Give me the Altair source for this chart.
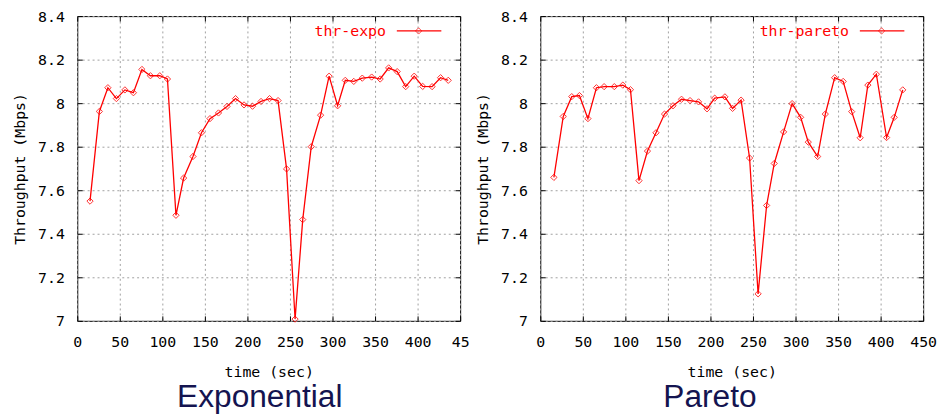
import altair as alt
import pandas as pd

# ---- data ----
expo_time = [15, 26, 36, 46, 56, 66, 76, 86, 97, 106,
             116, 125, 136, 146, 156, 166, 176, 186, 196, 206,
             216, 226, 236, 246, 256, 265, 275, 286, 296, 306,
             315, 325, 335, 346, 356, 366, 376, 386, 396, 406,
             417, 427, 436]
expo_thr = [7.55, 7.962, 8.071, 8.021, 8.061, 8.048, 8.155, 8.126, 8.126, 8.111,
            7.485, 7.656, 7.755, 7.864, 7.929, 7.955, 7.985, 8.021, 7.992, 7.986,
            8.008, 8.021, 8.012, 7.698, 7.008, 7.465, 7.80, 7.945, 8.124, 7.988,
            8.105, 8.10, 8.115, 8.12, 8.111, 8.162, 8.145, 8.076, 8.124, 8.077,
            8.076, 8.117, 8.105]

pareto_time = [16, 27, 37, 46, 56, 66, 75, 87, 97, 106,
               116, 126, 136, 146, 156, 166, 176, 186, 196, 205,
               217, 226, 236, 246, 256, 266, 275, 286, 296, 306,
               315, 326, 335, 346, 356, 366, 376, 385, 395, 407,
               416, 426]
pareto_thr = [7.659, 7.939, 8.03, 8.035, 7.929, 8.071, 8.076, 8.076, 8.083, 8.062,
              7.644, 7.78, 7.864, 7.95, 7.988, 8.018, 8.012, 8.006, 7.974, 8.023,
              8.029, 7.976, 8.014, 7.748, 7.124, 7.53, 7.723, 7.868, 7.998, 7.935,
              7.821, 7.755, 7.95, 8.117, 8.1, 7.961, 7.841, 8.083, 8.133, 7.842,
              7.935, 8.061]

x_ticks = [0, 50, 100, 150, 200, 250, 300, 350, 400, 450]
y_ticks = [7.0, 7.2, 7.4, 7.6, 7.8, 8.0, 8.2, 8.4]

MONO = "DejaVu Sans Mono"
RED = "#ff0000"
NAVY = "#141450"
GRID = "#a0a0a0"
W, H = 387, 308


def panel(times, vals, series, title, last_label, title_dx):
    df = pd.DataFrame({"time": times, "thr": vals})
    xs = alt.Scale(domain=[0, 450], nice=False, zero=False)
    ys = alt.Scale(domain=[7, 8.4], nice=False, zero=False)

    x_label_expr = "datum.value == 450 ? '%s' : datum.label" % last_label
    xaxis = alt.Axis(values=x_ticks, title="time (sec)", grid=True, gridDash=[2, 3],
                     gridColor=GRID, gridWidth=1, domain=False, labelFlush=False,
                     tickSize=alt.ExprRef(expr="-5"), tickColor="black",
                     labelPadding=19, labelExpr=x_label_expr, titlePadding=15)
    yaxis = alt.Axis(values=y_ticks, title="Throughput (Mbps)", grid=True, gridDash=[2, 3],
                     gridColor=GRID, gridWidth=1, domain=False, format="~g",
                     labelFlush=False,
                     tickSize=alt.ExprRef(expr="-5"), tickColor="black",
                     labelPadding=18, titlePadding=10)

    line = alt.Chart(df).mark_line(color=RED, strokeWidth=1.3).encode(
        x=alt.X("time:Q", scale=xs, axis=xaxis),
        y=alt.Y("thr:Q", scale=ys, axis=yaxis),
    )
    pts = alt.Chart(df).mark_point(shape="diamond", size=40, filled=False,
                                   color=RED, strokeWidth=1, opacity=0.8).encode(
        x=alt.X("time:Q", scale=xs, axis=None),
        y=alt.Y("thr:Q", scale=ys, axis=None),
    )
    # mirror ticks (top / right)
    mirror = alt.Chart(df).mark_point(opacity=0).encode(
        x=alt.X("time:Q", scale=xs,
                axis=alt.Axis(orient="top", values=x_ticks, labels=False, title=None,
                              grid=False, domain=False, tickColor="black",
                              tickSize=alt.ExprRef(expr="-5"))),
        y=alt.Y("thr:Q", scale=ys,
                axis=alt.Axis(orient="right", values=y_ticks, labels=False, title=None,
                              grid=False, domain=False, tickColor="black",
                              tickSize=alt.ExprRef(expr="-5"))),
    )

    ldf = pd.DataFrame({"label": [series]})
    ltext = alt.Chart(ldf).mark_text(align="right", baseline="middle", font=MONO,
                                     fontSize=15, color=RED).encode(
        x=alt.value(312), y=alt.value(15), text="label:N")
    lline = alt.Chart(ldf).mark_rule(color=RED, strokeWidth=1.3).encode(
        x=alt.value(323), x2=alt.value(368), y=alt.value(15))
    lpt = alt.Chart(ldf).mark_point(shape="diamond", size=40, filled=False,
                                    color=RED, strokeWidth=1).encode(
        x=alt.value(345), y=alt.value(15))

    return alt.layer(line, pts, mirror, ltext, lline, lpt).resolve_axis(
        x="independent", y="independent"
    ).properties(
        width=W, height=H,
        title=alt.TitleParams(title, orient="bottom", anchor="middle", fontSize=32,
                              font="Liberation Sans", fontWeight="normal", color=NAVY,
                              dx=title_dx, offset=3),
    )


left = panel(expo_time, expo_thr, "thr-expo", "Exponential", "45", -9)
right = panel(pareto_time, pareto_thr, "thr-pareto", "Pareto", "450", -22)

chart = alt.hconcat(left, right, spacing=81, bounds="flush").properties(
    padding={"left": 4, "top": -2, "right": 0, "bottom": 0}
).configure(
    background="white"
).configure_view(
    stroke="black", strokeWidth=1
).configure_axis(
    labelFont=MONO, labelFontSize=15, labelColor="black",
    titleFont=MONO, titleFontSize=15, titleFontWeight="normal", titleColor="black"
)

chart.save("out.html", embed_options={"renderer": "svg", "actions": False})
